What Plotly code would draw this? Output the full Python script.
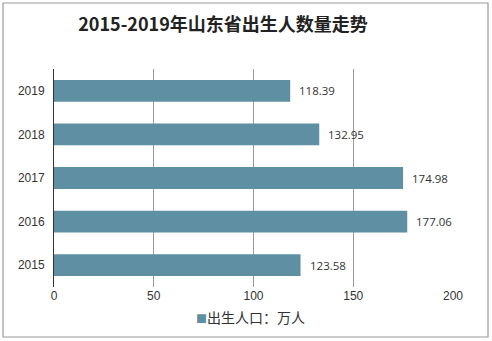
import plotly.graph_objects as go

years = ["2015", "2016", "2017", "2018", "2019"]
births = [123.58, 177.06, 174.98, 132.95, 118.39]
x_ticks = [0, 50, 100, 150, 200]
title_text = "2015-2019年山东省出生人数量走势"
series_name = "出生人口：万人"
bar_color = "#5E8FA2"

W, H = 492, 341
L, R, T, B = 54, 39, 69, 54
pw, ph = W - L - R, H - T - B

def px_x(p):
    return (p - L) / pw

def px_y(p):
    return (H - B - p) / ph

fig = go.Figure()
fig.add_trace(go.Bar(
    y=years, x=births, orientation="h", name=series_name,
    marker=dict(color=bar_color, line=dict(width=0)),
    showlegend=False, hoverinfo="x+y",
))

for i, v in enumerate(births):
    fig.add_annotation(x=v, y=i, xref="x", yref="y", text=f"{v:.2f}",
                       showarrow=False, xanchor="left", yanchor="middle", xshift=7,
                       font=dict(family="Open Sans, Liberation Sans", size=11.5, color="#333333"))

fig.add_annotation(xref="paper", yref="paper", x=px_x(250), y=px_y(317), xanchor="center",
                   yanchor="middle", showarrow=False,
                   text=f"<span style='color:{bar_color};font-size:11px'>■</span>{series_name}",
                   font=dict(family="Noto Sans CJK SC", size=14, color="#333333"))

fig.update_layout(
    width=W, height=H,
    margin=dict(l=L, r=R, t=T, b=B),
    paper_bgcolor="white", plot_bgcolor="white",
    bargap=0.5,
    title=dict(text=f"<b>{title_text}</b>", x=223 / W, xanchor="center",
               y=1 - 25 / H, yanchor="middle", xref="container",
               font=dict(family="Noto Sans CJK SC", size=18, color="#222222")),
    xaxis=dict(type="linear", range=[0, 200], tickvals=x_ticks, showgrid=True,
               gridcolor="#999999", gridwidth=1, zeroline=False, showline=False, ticks="",
               tickfont=dict(family="Liberation Sans", size=12, color="#333333")),
    yaxis=dict(type="category", categoryorder="array", categoryarray=years,
               range=[-0.5, 4.5], showline=True,
               linecolor="#333333", linewidth=1, ticks="", ticklabelstandoff=6,
               showgrid=False,
               tickfont=dict(family="Liberation Sans", size=12, color="#333333")),
    showlegend=False,
)

fig.add_shape(type="rect", xref="paper", yref="paper",
              x0=px_x(3), x1=px_x(488), y0=px_y(337), y1=px_y(3),
              line=dict(color="#999999", width=1.2), layer="below")

fig.write_html("out.html")
